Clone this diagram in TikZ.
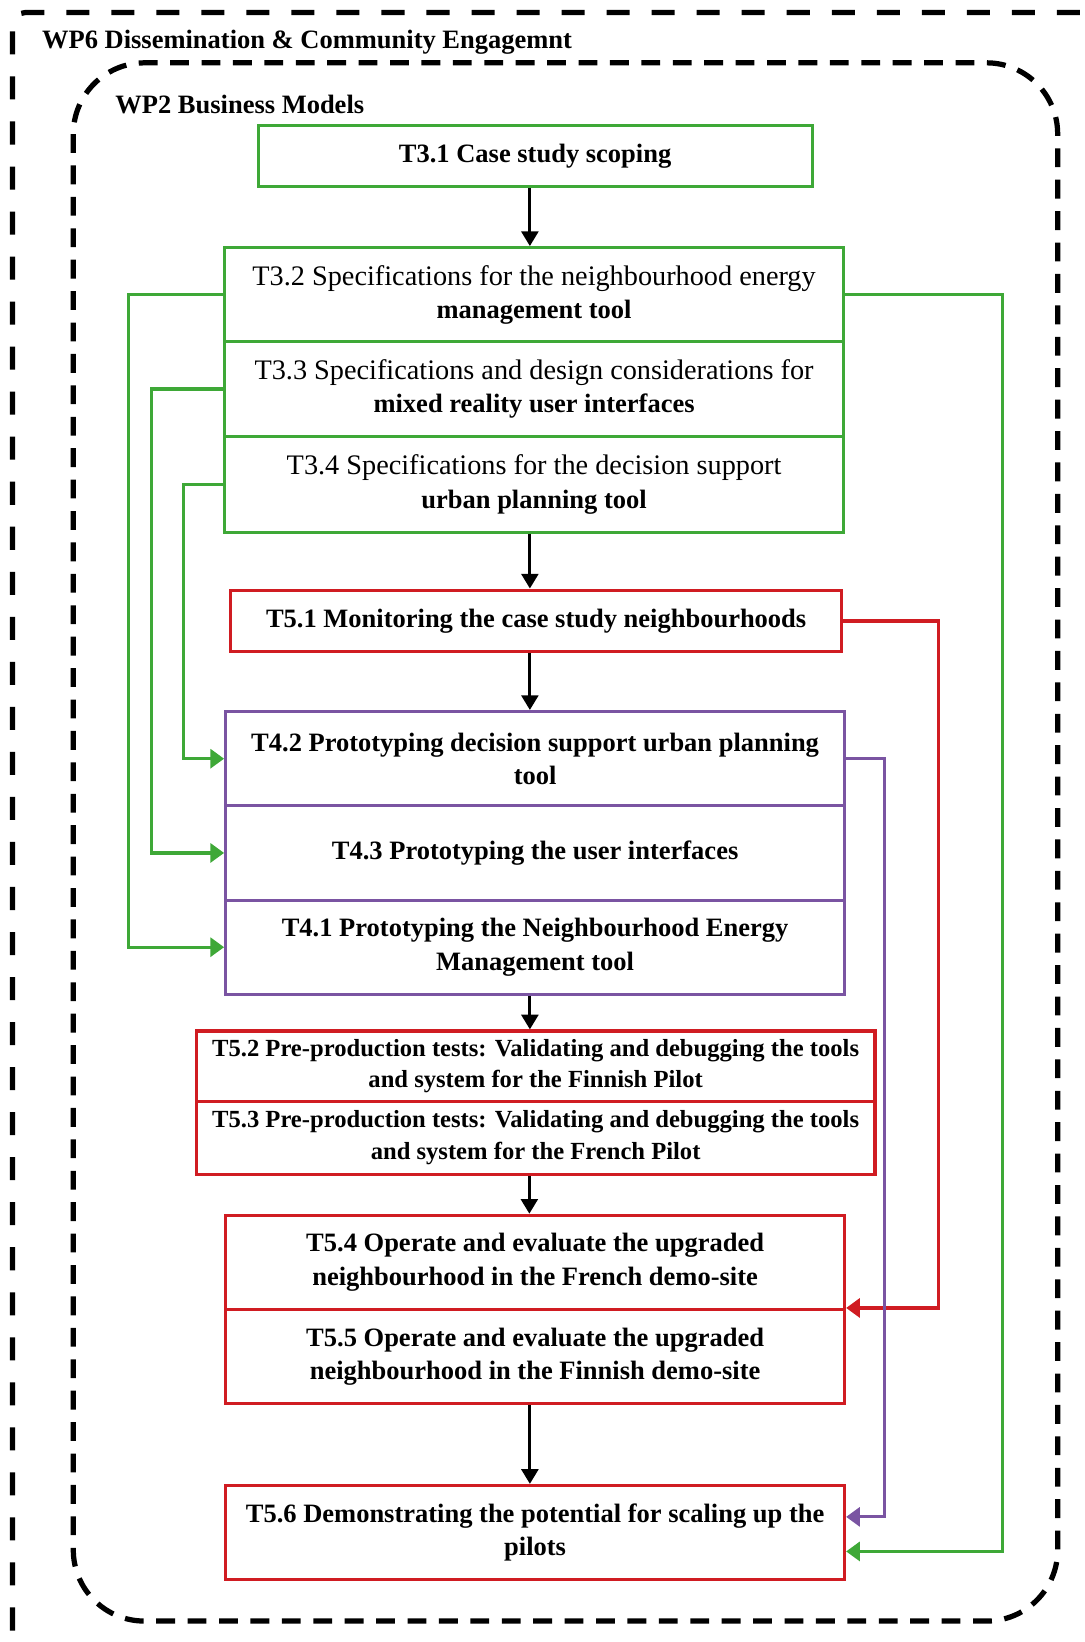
\documentclass[tikz,border=0pt]{standalone}
\usepackage{fontspec}
\setmainfont{Liberation Serif}
\usetikzlibrary{arrows.meta,calc}
\definecolor{cgreen}{RGB}{62,168,55}
\definecolor{cred}{RGB}{208,28,34}
\definecolor{cpurple}{RGB}{122,84,162}
\newcommand{\regf}{\fontsize{27}{32}\selectfont}
\newcommand{\bldf}{\fontsize{25.3}{32}\selectfont\bfseries}
\newcommand{\smf}{\fontsize{23.5}{30}\selectfont\bfseries}
\begin{document}
\begin{tikzpicture}[x=1pt,y=-1pt,
  box/.style={draw, line width=3pt, inner sep=0pt, align=center, anchor=north west, font=\regf},
  gbox/.style={box, draw=cgreen},
  rbox/.style={box, draw=cred},
  pbox/.style={box, draw=cpurple},
  flow/.style={line width=3pt, -{Triangle[width=16pt,length=14pt]}},
  gline/.style={draw=cgreen, line width=3pt, -{Triangle[width=18pt,length=13pt]}, color=cgreen},
  rline/.style={draw=cred, line width=3pt, -{Triangle[width=18pt,length=13pt]}, color=cred},
  pline/.style={draw=cpurple, line width=3pt, -{Triangle[width=18pt,length=13pt]}, color=cpurple},
  outerdash/.style={line width=5pt, dash pattern=on 22pt off 21pt},
  innerdash/.style={line width=5pt, dash pattern=on 18pt off 12pt},
  wplabel/.style={anchor=west, inner sep=0pt, font=\bldf}
]
\useasboundingbox (0,0) rectangle (1036,1568);
\clip (0,0) rectangle (1036,1568);

% frames
\draw[outerdash, rounded corners=12pt] (12,1600) -- (12,12) -- (1050,12) -- (1050,1600);
\draw[innerdash, rounded corners=68pt] (70,60) rectangle (1010,1548);
\node[wplabel] (wp6) at (40,40) {WP6 Dissemination \& Community Engagemnt};
\node[wplabel] (wp2) at (110,100) {WP2 Business Models};

% boxes
\node[gbox, minimum width=529pt, minimum height=59pt] (t31) at (245,118) {\bldf T3.1 Case study scoping};
\node[gbox, minimum width=591pt, minimum height=90pt] (t32) at (213,235) {T3.2 Specifications for the neighbourhood energy\\{\bldf management tool}};
\node[gbox, minimum width=591pt, minimum height=90pt] (t33) at (213,325) {T3.3 Specifications and design considerations for\\{\bldf mixed reality user interfaces}};
\node[gbox, minimum width=591pt, minimum height=92pt] (t34) at (213,415) {T3.4 Specifications for the decision support\\{\bldf urban planning tool}};
\node[rbox, minimum width=583pt, minimum height=59pt] (t51) at (219,562) {\bldf T5.1 Monitoring the case study neighbourhoods};
\node[pbox, minimum width=591pt, minimum height=90pt, font=\bldf] (t42) at (214,678) {T4.2 Prototyping decision support urban planning\\tool};
\node[pbox, minimum width=591pt, minimum height=90pt, font=\bldf] (t43) at (214,768) {T4.3 Prototyping the user interfaces};
\node[pbox, minimum width=591pt, minimum height=90pt, font=\bldf] (t41) at (214,858) {T4.1 Prototyping the Neighbourhood Energy\\Management tool};
\node[rbox, minimum width=648pt, minimum height=67pt, font=\smf] (t52) at (186,983) {T5.2 Pre-production tests: Validating and debugging the tools\\and system for the Finnish Pilot};
\node[rbox, minimum width=648pt, minimum height=70pt, font=\smf] (t53) at (186,1050) {T5.3 Pre-production tests: Validating and debugging the tools\\and system for the French Pilot};
\node[rbox, minimum width=591pt, minimum height=90pt, font=\bldf] (t54) at (214,1159) {T5.4 Operate and evaluate the upgraded\\neighbourhood in the French demo-site};
\node[rbox, minimum width=591pt, minimum height=90pt, font=\bldf] (t55) at (214,1249) {T5.5 Operate and evaluate the upgraded\\neighbourhood in the Finnish demo-site};
\node[rbox, minimum width=591pt, minimum height=90pt, font=\bldf] (t56) at (214,1417) {T5.6 Demonstrating the potential for scaling up the\\pilots};

% main flow
\draw[flow] ([xshift=-5pt]t31.south) -- ([xshift=-5pt]t31.south |- t32.north);
\draw[flow] ([xshift=-4pt]t34.south) -- ([xshift=-4pt]t34.south |- t51.north);
\draw[flow] ([xshift=-6pt]t51.south) -- ([xshift=-6pt]t51.south |- t42.north);
\draw[flow] ([xshift=-5pt]t41.south) -- ([xshift=-5pt]t41.south |- t52.north);
\draw[flow] ([xshift=-6pt]t53.south) -- ([xshift=-6pt]t53.south |- t54.north);
\draw[flow] ([xshift=-5pt]t55.south) -- ([xshift=-5pt]t55.south |- t56.north);

% side connectors
\draw[gline] (t32.west) -- ++(-90,0) |- (t41.west);
\draw[gline] (t33.west) -- ++(-68,0) |- (t43.west);
\draw[gline] (t34.west) -- ++(-38,0) |- (t42.west);
\draw[gline] (t32.east) -- ++(150,0) |- ([yshift=-18pt]t56.east);
\draw[rline] (t51.east) -- ++(91,0) |- (t55.north east);
\draw[pline] (t42.east) -- ++(37,0) |- ([yshift=15pt]t56.east);
\end{tikzpicture}
\end{document}
